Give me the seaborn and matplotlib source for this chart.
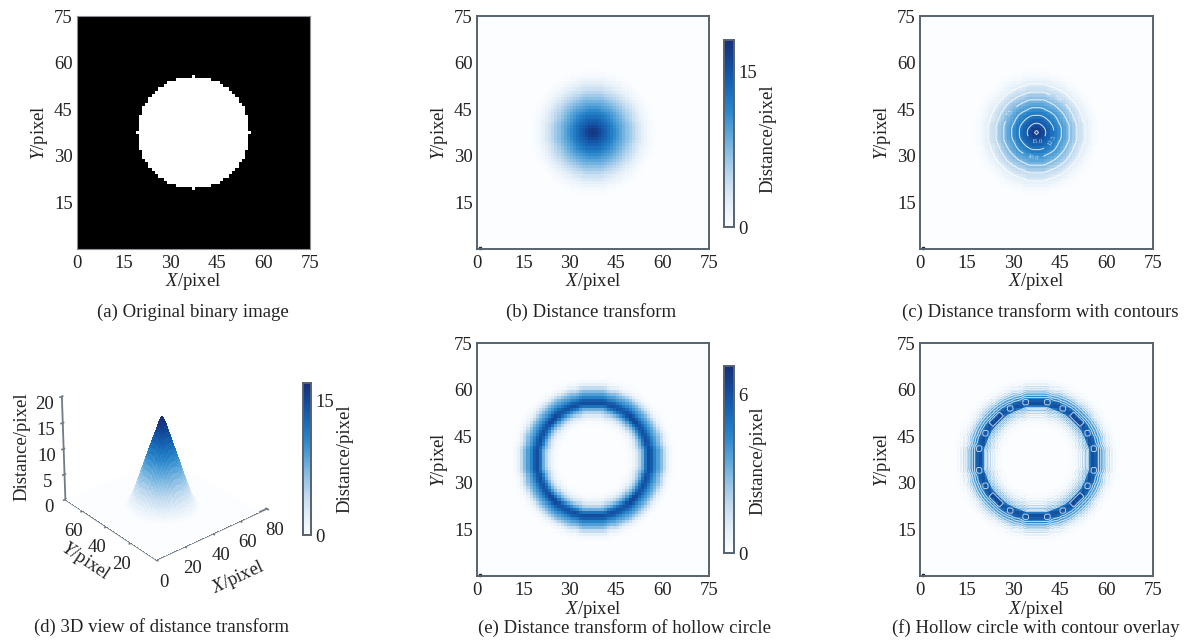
"""
Six panel figure: distance transform of a solid and of a hollow circle.
"""

import numpy as np
import matplotlib
matplotlib.use("Agg")
import matplotlib.pyplot as plt
import seaborn as sns

# ─── Data ────────────────────────────────────────────────────────────────────

GRID_SIZE = 75
CENTER_CELL = 37

# half width of the white disc per row, from the centre row outwards
DISC_HALF_WIDTH = [18, 17, 17, 17, 17, 17, 16, 16, 16, 15, 14, 14, 13, 12, 11, 9, 8, 5, 0]

# distance value at radius 0, 1, 2... from the circle centre
SOLID_PROFILE = [18.0, 17.0, 16.0, 15.0, 14.0, 13.0, 12.0, 11.0, 10.0, 9.0, 8.0,
                 7.0, 6.0, 5.0, 4.0, 3.0, 2.1, 1.3, 0.7, 0.3, 0.1, 0.0]
HOLLOW_PROFILE = [0, 0, 0, 0, 0, 0, 0, 0, 0, 0, 0, 0.02, 0.1, 0.35, 1.0, 2.0, 3.2,
                  4.8, 7.0, 5.6, 4.4, 3.8, 3.0, 1.8, 0.7, 0.2, 0.05, 0.0]

# ridge height of the hollow circle per 7.5 degree sector, first quadrant (panel f beads)
RIDGE_SECTORS = [5.2, 6.9, 5.3, 6.8, 5.3, 6.8, 6.8, 5.3, 6.8, 5.3, 6.9, 5.2]
RIDGE_RADII = [18, 19]

TICKS = [0, 15, 30, 45, 60, 75]
Y_TICKS = [15, 30, 45, 60, 75]
SOLID_LEVELS = [2.5, 5.0, 7.5, 10.0, 12.5, 15.0, 17.0]
HOLLOW_LEVELS = [0.4, 1.0, 1.6, 2.2, 2.8, 3.4, 4.0, 4.6, 6.2]
LABEL_SPOTS = [(44.5, 48.4), (29.8, 43.0), (36.4, 29.5), (42.5, 34.8), (37.5, 34.3)]

CAPTIONS = {
    "a": "(a) Original binary image",
    "b": "(b) Distance transform",
    "c": "(c) Distance transform with contours",
    "d": "(d) 3D view of distance transform",
    "e": "(e) Distance transform of hollow circle",
    "f": "(f) Hollow circle with contour overlay",
}

BLUE_STOPS = ["#fbfdff", "#e4eff8", "#c4dcf0", "#93c3e6", "#5ba6da", "#2a86cb",
              "#1768b6", "#134a9b", "#162f78"]

W, H = 1186, 641
SPINE = "#56626e"
TEXT = "#222222"
FS = 13.5


# ─── Helpers ─────────────────────────────────────────────────────────────────

def px_axes(fig, x0, y0, x1, y1, **kw):
    return fig.add_axes([x0 / W, 1 - y1 / H, (x1 - x0) / W, (y1 - y0) / H], **kw)


def radial_field(profile):
    offs = np.arange(GRID_SIZE) - CENTER_CELL
    r = np.hypot(*np.meshgrid(offs, offs))
    idx = np.clip(np.rint(r).astype(int), 0, len(profile) - 1)
    return np.array(profile, dtype=float)[idx]


def disc_mask():
    mask = np.zeros((GRID_SIZE, GRID_SIZE))
    for dy, hw in enumerate(DISC_HALF_WIDTH):
        for row in (CENTER_CELL - dy, CENTER_CELL + dy):
            mask[row, CENTER_CELL - hw:CENTER_CELL + hw + 1] = 1
    return mask


def soften(field):
    # the printed figure is slightly blurred
    kernel = np.array([0.25, 0.5, 0.25])
    out = np.apply_along_axis(lambda v: np.convolve(v, kernel, mode="same"), 0, field)
    return np.apply_along_axis(lambda v: np.convolve(v, kernel, mode="same"), 1, out)


def beaded_ridge(field):
    # put the sector heights back on the ridge cells
    offs = np.arange(GRID_SIZE) - CENTER_CELL
    dx, dy = np.meshgrid(offs, offs)
    on_ridge = np.isin(np.rint(np.hypot(dx, dy)).astype(int), RIDGE_RADII)
    angle = np.degrees(np.arctan2(np.abs(dy), np.abs(dx)))
    idx = np.clip((angle / 7.5).astype(int), 0, len(RIDGE_SECTORS) - 1)
    out = field.copy()
    out[on_ridge] = np.array(RIDGE_SECTORS)[idx][on_ridge]
    return out


def style_map(ax, fig, box, spine_color=SPINE, spine_width=1.4, marks=True):
    ax.set_xlim(0, GRID_SIZE)
    ax.set_ylim(0, GRID_SIZE)
    ax.set_aspect("auto")
    ax.set_xticks(TICKS)
    ax.set_xticklabels([str(t) for t in TICKS], rotation=0)
    ax.set_yticks(Y_TICKS)
    ax.set_yticklabels([str(t) for t in Y_TICKS], rotation=0)
    ax.tick_params(direction="in", length=3 if marks else 0, width=1, color=SPINE,
                   labelsize=FS, labelcolor=TEXT, pad=3)
    ax.tick_params(axis="x", pad=4)
    for s in ax.spines.values():
        s.set_visible(True)
        s.set_color(spine_color)
        s.set_linewidth(spine_width)
    x0, y0, x1, y1 = box
    fig.text((x0 + x1) / 2 / W, 1 - (y1 + 33) / H, r"$\mathit{X}$/pixel", ha="center",
             va="center", fontsize=FS, color=TEXT)
    fig.text((x0 - 38) / W, 1 - (y0 + y1) / 2 / H, r"$\mathit{Y}$/pixel", ha="center",
             va="center", rotation=90, fontsize=FS, color=TEXT)
    if marks:
        ax.plot([0.9], [0.4], marker="s", ms=1.6, color="#1d2733", clip_on=False)


def style_cbar(cax, ticks):
    cax.set_yticks(ticks)
    cax.set_yticklabels([str(t) for t in ticks])
    cax.tick_params(length=0, labelsize=FS, labelcolor=TEXT, pad=3)
    for s in cax.spines.values():
        s.set_visible(True)
        s.set_color(SPINE)
        s.set_linewidth(1.2)


def draw_heat(fig, box, field, cmap, vmax, cbar_box=None, cbar_ticks=None, label_at=None):
    ax = px_axes(fig, *box)
    if cbar_box is not None:
        cax = px_axes(fig, *cbar_box)
        sns.heatmap(field, ax=ax, cmap=cmap, vmin=0, vmax=vmax, cbar=True, cbar_ax=cax,
                    xticklabels=False, yticklabels=False)
        style_cbar(cax, cbar_ticks)
        fig.text(label_at[0] / W, 1 - label_at[1] / H, "Distance/pixel",
                 rotation=90, ha="center", va="center", fontsize=FS, color=TEXT)
    else:
        sns.heatmap(field, ax=ax, cmap=cmap, vmin=0, vmax=vmax, cbar=False,
                    xticklabels=False, yticklabels=False)
    return ax


# ─── Figure ──────────────────────────────────────────────────────────────────

sns.set_theme(style="white")
plt.rcParams["font.family"] = ["Liberation Serif", "DejaVu Serif"]
plt.rcParams["mathtext.fontset"] = "custom"
plt.rcParams["mathtext.it"] = "Liberation Serif:italic"
plt.rcParams["mathtext.rm"] = "Liberation Serif"

blues = sns.blend_palette(BLUE_STOPS, as_cmap=True)
binary = sns.color_palette(["#000000", "#ffffff"], as_cmap=True)

solid = soften(radial_field(SOLID_PROFILE))
hollow = soften(radial_field(HOLLOW_PROFILE))
cells = np.arange(GRID_SIZE) + 0.5

fig = plt.figure(figsize=(W / 100, H / 100), dpi=100)

# (a)
box_a = (77, 16, 310, 249)
ax_a = draw_heat(fig, box_a, disc_mask(), binary, 1)
style_map(ax_a, fig, box_a, spine_color="#8a9096", spine_width=0.8, marks=False)

# (b)
box_b = (477, 16, 709, 249)
ax_b = draw_heat(fig, box_b, solid, blues, 18, (724, 40, 734, 227), [0, 15], (768, 139))
style_map(ax_b, fig, box_b)

# (c)
box_c = (920, 16, 1153, 249)
ax_c = draw_heat(fig, box_c, solid, blues, 18)
style_map(ax_c, fig, box_c)
lines_c = ax_c.contour(cells, cells, solid, levels=SOLID_LEVELS, colors="white",
                       linewidths=0.8, alpha=0.75)
ax_c.clabel(lines_c, fmt="%.1f", fontsize=4.5, colors="white", manual=LABEL_SPOTS)

# (d)
ax_d = fig.add_axes([-0.029, 0.036, 0.33, 0.5], projection="3d")
xx, yy = np.meshgrid(cells, cells)
ax_d.plot_surface(xx, yy, solid, cmap=blues, vmin=0, vmax=17, rstride=1,
                  cstride=1, linewidth=0, antialiased=False, shade=False)
ax_d.view_init(elev=30, azim=-130)
ax_d.set_box_aspect((1, 1, 0.82), zoom=0.72)
ax_d.set_xlim(0, 80)
ax_d.set_ylim(0, 75)
ax_d.set_zlim(0, 20)
ax_d.set_xticks([0, 20, 40, 60, 80])
ax_d.set_yticks([20, 40, 60])
ax_d.set_zticks([0, 5, 10, 15, 20])
ax_d.grid(False)
for axis in (ax_d.xaxis, ax_d.yaxis, ax_d.zaxis):
    axis.set_pane_color((1, 1, 1, 0))
    axis.line.set_color("#6f7b87")
    axis.line.set_linewidth(1.3)
ax_d.tick_params(labelsize=FS, labelcolor=TEXT, color="#6f7b87", pad=2)
ax_d.set_xlabel(r"$\mathit{X}$/pixel", fontsize=FS, color=TEXT, labelpad=11)
ax_d.set_ylabel(r"$\mathit{Y}$/pixel", fontsize=FS, color=TEXT, labelpad=5)
ax_d.zaxis.set_rotate_label(False)
ax_d.set_zlabel("Distance/pixel", fontsize=FS, color=TEXT, labelpad=4, rotation=90)

cax_d = px_axes(fig, 303, 383, 311, 535)
sm = plt.cm.ScalarMappable(cmap=blues, norm=plt.Normalize(0, 17))
fig.colorbar(sm, cax=cax_d)
style_cbar(cax_d, [0, 15])
fig.text(345 / W, 1 - 459 / H, "Distance/pixel", rotation=90, ha="center", va="center",
         fontsize=FS, color=TEXT)

# (e)
box_e = (477, 343, 709, 576)
ax_e = draw_heat(fig, box_e, hollow, blues, 7.1, (724, 366, 734, 553), [0, 6], (758, 461))
style_map(ax_e, fig, box_e)

# (f)
box_f = (920, 343, 1153, 576)
ax_f = draw_heat(fig, box_f, hollow, blues, 7.1)
style_map(ax_f, fig, box_f)
ax_f.contour(cells, cells, beaded_ridge(hollow), levels=HOLLOW_LEVELS, colors="white",
             linewidths=0.6, alpha=0.8)

# captions
for key, (cx, cy) in {"a": (193, 312), "b": (591, 312), "c": (1040, 312),
                      "d": (162, 627), "e": (625, 628), "f": (1036, 628)}.items():
    fig.text(cx / W, 1 - cy / H, CAPTIONS[key], ha="center", va="center", fontsize=13.5,
             color=TEXT)

fig.savefig("out.png", dpi=100, facecolor="white")
plt.close(fig)
